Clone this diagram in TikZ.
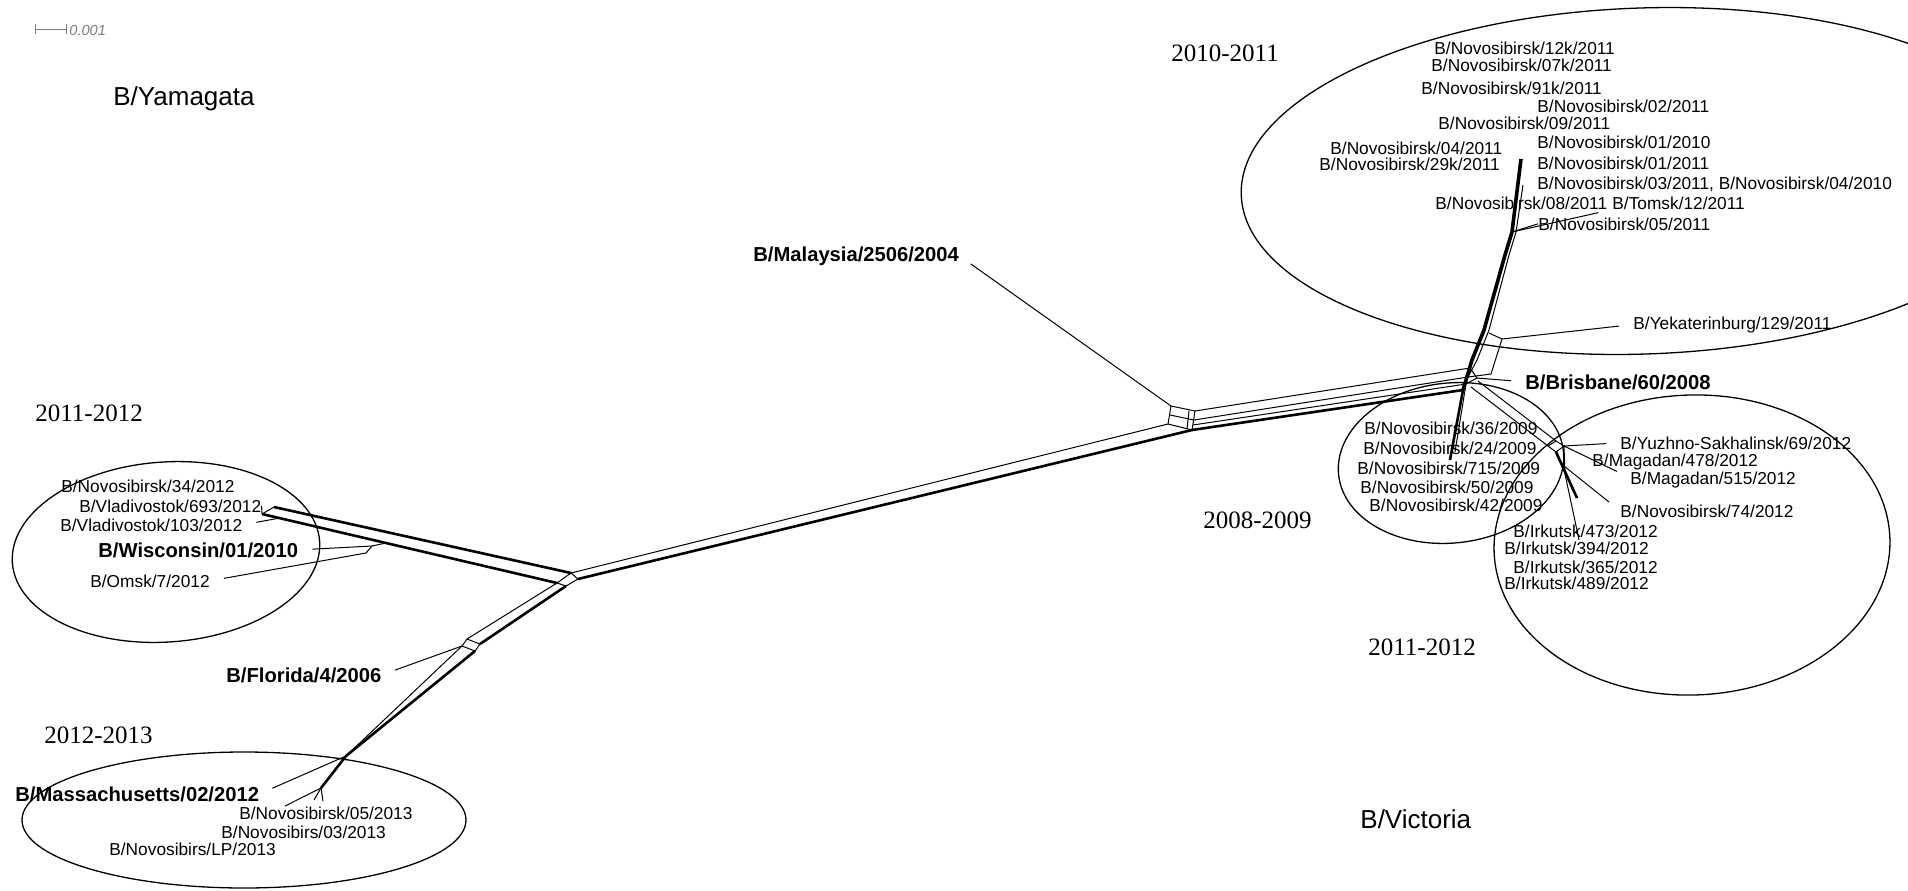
\documentclass[tikz,border=0pt]{standalone}
\usepackage{fontspec}
\setmainfont{Liberation Serif}
\setsansfont{Liberation Sans}
\usetikzlibrary{calc,arrows.meta}
\definecolor{scalegray}{RGB}{125,125,125}

\begin{document}
\begin{tikzpicture}[
  x=0.5pt, y=-0.5pt,
  strain/.style={anchor=base west, inner sep=0pt, font=\sffamily\fontsize{8.65}{10}\selectfont},
  ref/.style={anchor=base west, inner sep=0pt, font=\sffamily\bfseries\fontsize{10.1}{12}\selectfont},
  lineage/.style={anchor=base west, inner sep=0pt, font=\sffamily\fontsize{13}{15}\selectfont},
  season/.style={anchor=base west, inner sep=0pt, font=\rmfamily\fontsize{12.5}{15}\selectfont},
  splitline/.style={line width=0.5pt},
  trunkline/.style={line width=1.3pt},
  leader/.style={line width=0.5pt, shorten <=7pt},
  leadtie/.style={line width=0.5pt},
  cluster/.style={line width=0.65pt}
]
\useasboundingbox (0,0) rectangle (1908,890);
\clip (0,0) rectangle (1908,890);

% scale bar
\coordinate (sb-l) at (35,29);
\coordinate (sb-r) at (67,29);
\draw[scalegray, line width=0.5pt, {Bar[width=5pt]}-{Bar[width=5pt]}] (sb-l) -- (sb-r);
\node[anchor=base west, inner sep=0pt, text=scalegray, font=\sffamily\itshape\fontsize{7.3}{8}\selectfont] (scale) at (69,35) {0.001};

% lineages and seasons
\node[lineage] (yam) at (113,105) {B/Yamagata};
\node[lineage] (vic) at (1360,828) {B/Victoria};
\node[season] (s1011) at (1171,61) {2010-2011};
\node[season] (s1112a) at (35,421) {2011-2012};
\node[season] (s0809) at (1203,528) {2008-2009};
\node[season] (s1112b) at (1368,655) {2011-2012};
\node[season] (s1213) at (44,743) {2012-2013};

% clusters
\draw[cluster, rotate around={2:(1643,181)}] (1643,181) ellipse [x radius=402, y radius=173];
\draw[cluster, rotate around={4:(166,552)}] (166,552) ellipse [x radius=154, y radius=90];
\draw[cluster, rotate around={6:(1451,463)}] (1451,463) ellipse [x radius=113, y radius=80];
\draw[cluster, rotate around={2:(1692,545)}] (1692,545) ellipse [x radius=198, y radius=150];
\draw[cluster] (244,820) ellipse [x radius=222, y radius=68];

% strains
\node[strain] (n12k) at (1434,54) {B/Novosibirsk/12k/2011};
\node[strain] (n07k) at (1431,71) {B/Novosibirsk/07k/2011};
\node[strain] (n91k) at (1421,94) {B/Novosibirsk/91k/2011};
\node[strain] (n02a) at (1537,112) {B/Novosibirsk/02/2011};
\node[strain] (n09a) at (1438,129) {B/Novosibirsk/09/2011};
\node[strain] (n01b) at (1537,148) {B/Novosibirsk/01/2010};
\node[strain] (n04a) at (1330,154) {B/Novosibirsk/04/2011};
\node[strain] (n29k) at (1319,170) {B/Novosibirsk/29k/2011};
\node[strain] (n01a) at (1537,169) {B/Novosibirsk/01/2011};
\node[strain] (n03a) at (1537,189) {B/Novosibirsk/03/2011, B/Novosibirsk/04/2010};
\node[strain] (n08a) at (1435,209) {B/Novosibirsk/08/2011};
\node[strain] (tom) at (1612,209) {B/Tomsk/12/2011};
\node[strain] (n05a) at (1538,230) {B/Novosibirsk/05/2011};
\node[strain] (yek) at (1633,329) {B/Yekaterinburg/129/2011};
\node[strain] (n36) at (1364,434) {B/Novosibirsk/36/2009};
\node[strain] (n24) at (1363,454) {B/Novosibirsk/24/2009};
\node[strain] (n715) at (1357,474) {B/Novosibirsk/715/2009};
\node[strain] (n50) at (1360,493) {B/Novosibirsk/50/2009};
\node[strain] (n42) at (1369,511) {B/Novosibirsk/42/2009};
\node[strain] (yuz) at (1620,449) {B/Yuzhno-Sakhalinsk/69/2012};
\node[strain] (mg478) at (1592,466) {B/Magadan/478/2012};
\node[strain] (mg515) at (1630,484) {B/Magadan/515/2012};
\node[strain] (n74) at (1620,517) {B/Novosibirsk/74/2012};
\node[strain] (ir473) at (1513,537) {B/Irkutsk/473/2012};
\node[strain] (ir394) at (1504,554) {B/Irkutsk/394/2012};
\node[strain] (ir365) at (1513,573) {B/Irkutsk/365/2012};
\node[strain] (ir489) at (1504,589) {B/Irkutsk/489/2012};
\node[strain] (n34) at (61,492) {B/Novosibirsk/34/2012};
\node[strain] (vl693) at (79,512) {B/Vladivostok/693/2012};
\node[strain] (vl103) at (60,531) {B/Vladivostok/103/2012};
\node[strain] (omsk) at (90,587) {B/Omsk/7/2012};
\node[strain] (n0513) at (239,819) {B/Novosibirsk/05/2013};
\node[strain] (n0313) at (221,838) {B/Novosibirs/03/2013};
\node[strain] (nlp) at (109,855) {B/Novosibirs/LP/2013};

% reference strains
\node[ref] (mal) at (753,261) {B/Malaysia/2506/2004};
\node[ref] (bri) at (1525,389) {B/Brisbane/60/2008};
\node[ref] (wis) at (98,557) {B/Wisconsin/01/2010};
\node[ref] (flo) at (226,682) {B/Florida/4/2006};
\node[ref] (mas) at (15,801) {B/Massachusetts/02/2012};

% network points
\coordinate (lt-a) at (274,507);
\coordinate (lt-b) at (262,514);
\coordinate (v1b) at (280,518);
\coordinate (wo-a) at (372,546);
\coordinate (wo-b) at (386,543);
\coordinate (wo-c) at (366,553);
\coordinate (lh-a) at (571,573);
\coordinate (lh-b) at (557,583);
\coordinate (lh-c) at (578,579);
\coordinate (lh-e) at (566,586);
\coordinate (fb-a) at (467,639);
\coordinate (fb-b) at (480,644);
\coordinate (fb-c) at (475,651);
\coordinate (fb-d) at (462,646);
\coordinate (mj) at (346,756);
\coordinate (tr-e) at (321,788);
\coordinate (mb-tl) at (1171,406);
\coordinate (mb-tr) at (1195,411);
\coordinate (mb-br) at (1192,430);
\coordinate (mb-bl) at (1168,424);
\coordinate (mb-ml) at (1170,415);
\coordinate (mb-mr) at (1194,420);
\coordinate (mb-lr) at (1193,425);
\coordinate (rh-1) at (1470,368);
\coordinate (rh-2) at (1468,377);
\coordinate (rh-3) at (1466,384);
\coordinate (rh-4) at (1463,390);
\coordinate (bh) at (1477,378);
\coordinate (up-j) at (1512,232);
\coordinate (yk) at (1502,339);
\coordinate (d-end) at (1450,460);
\coordinate (sx-a) at (1548,446);
\coordinate (sx-b) at (1556,441);
\coordinate (sx-c) at (1564,446);
\coordinate (sx-d) at (1556,452);
\coordinate (sx-e) at (1565,474);
\coordinate (sx-f) at (1564,466);

% left branch
\draw[trunkline] (lt-a) -- (lh-a);
\draw[trunkline] (lt-b) -- (lh-b);
\draw[splitline] (lt-a) -- (lt-b);
\draw[splitline] (wo-c) -- (wo-a) -- (wo-b);
\draw[splitline] (lh-b) -- (lh-a) -- (lh-c) -- (lh-e) -- cycle;

% Florida branch
\draw[splitline] (lh-b) -- (fb-a);
\draw[trunkline] (lh-e) -- (fb-b);
\draw[splitline] (fb-a) -- (fb-b) -- (fb-c) -- (fb-d) -- cycle;
\draw[trunkline] (fb-c) -- (mj) -- (tr-e);
\draw[splitline] (fb-d) -- (mj);
\draw[splitline] (tr-e) -- (314,800);
\draw[splitline] (tr-e) -- (323,801);

% long band
\draw[splitline] (lh-a) -- (mb-bl);
\draw[trunkline] (lh-c) -- (mb-br);
\draw[splitline] (mb-tl) -- (mb-tr) -- (mb-br) -- (mb-bl) -- cycle;
\draw[splitline] (mb-ml) -- (mb-mr);
\draw[splitline] (1189,411) -- (1187,429);
\draw[splitline] (mb-tr) -- (rh-1);
\draw[splitline] (mb-mr) -- (rh-2);
\draw[splitline] (mb-lr) -- (rh-3);
\draw[trunkline] (mb-br) -- (rh-4);
\draw[trunkline] (rh-1) -- (rh-4);
\draw[splitline] (rh-1) -- (bh) -- (rh-3);

% 2010-2011 bundle
\draw[line width=1.8pt] (rh-4) -- (1472,360) -- (1484,330) -- (1505,255) -- (up-j) -- (1521,159);
\draw[splitline] (rh-2) -- (1477,360) -- (1489,330) -- (1509,255) -- (1516,232) -- (1523,185);
\draw[splitline] (1489,333) -- (yk) -- (1491,374) -- (rh-2);

% 2008-2009 and 2011-2012 arms
\draw[trunkline] (rh-4) -- (d-end);
\draw[splitline] (rh-3) -- (1455,452);
\draw[splitline] (1471,387) -- (sx-a);
\draw[splitline] (1478,381) -- (sx-b);
\draw[splitline] (sx-a) -- (sx-b) -- (sx-c) -- (sx-d) -- cycle;
\draw[trunkline] (sx-d) -- (1577,498);
\draw[splitline] (sx-c) -- (sx-e);

% leaders
\draw[leader] (mal.east) -- (mb-tl);
\draw[leader] (bri.west) -- (bh);
\draw[leader] (yek.west) -- (yk);
\draw[leader] (tom.south west) -- (up-j);
\draw[leadtie] (n05a.west) -- (up-j);
\draw[leader] (yuz.west) -- (sx-c);
\draw[leadtie] (sx-c) -- ($(mg478.west)+(25,10)$);
\draw[leader] (n74.west) -- (sx-f);
\draw[leadtie] (sx-e) -- ($(ir473.west)+(66,9)$);
\draw[leadtie] (vl693.east) -- (lt-b);
\draw[leader] (vl103.east) -- (v1b);
\draw[leader] (wis.east) -- (wo-a);
\draw[leader] (omsk.east) -- (wo-c);
\draw[leader] (flo.east) -- (fb-d);
\draw[leader] (mas.east) -- (mj);
\draw[leadtie] ($(n0513.north west)+(46,0)$) -- (tr-e);
\end{tikzpicture}
\end{document}
